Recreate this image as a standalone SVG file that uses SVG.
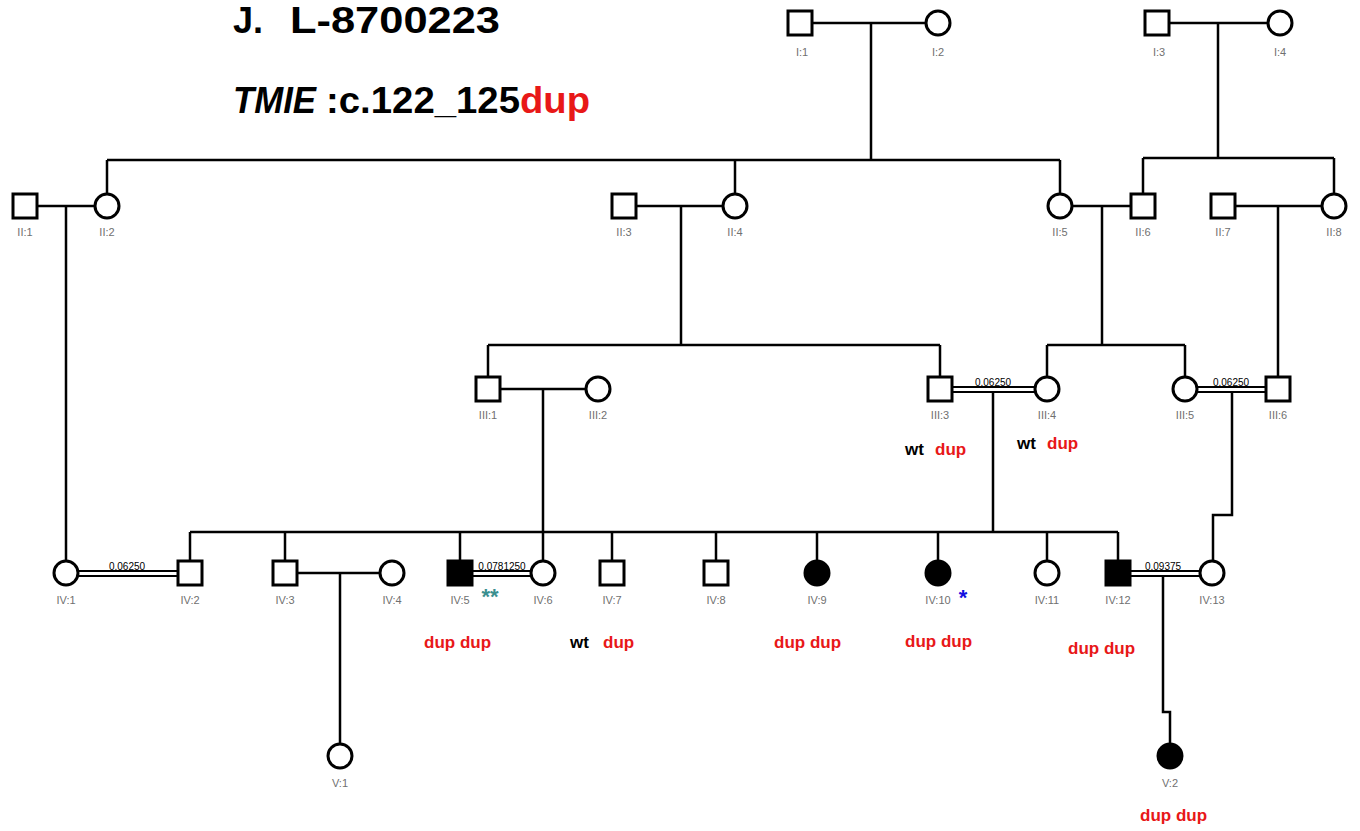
<svg xmlns="http://www.w3.org/2000/svg" width="1360" height="831" viewBox="0 0 1360 831">
<style>
.ln{stroke:#000;stroke-width:2.5;fill:none}
.dl{stroke:#000;stroke-width:2;fill:none}
.m{fill:#fff;stroke:#000;stroke-width:3}
.a{fill:#000;stroke:#000;stroke-width:3}
.lab{font-family:"Liberation Sans",sans-serif;font-size:11px;fill:#707070;text-anchor:middle}
.cf{font-family:"Liberation Sans",sans-serif;font-size:10px;fill:#000;text-anchor:middle}
.gt{font-family:"Liberation Sans",sans-serif;font-weight:bold;font-size:17px;fill:#e81818}
.wt{fill:#000}
.tt{font-family:"Liberation Sans",sans-serif;font-weight:bold;fill:#000}
</style>
<rect width="1360" height="831" fill="#fff"/>
<text class="tt" x="233" y="33" font-size="36">J.</text>
<text class="tt" x="290" y="33" font-size="36" textLength="210" lengthAdjust="spacingAndGlyphs">L-8700223</text>
<text class="tt" x="233" y="113" font-size="36" font-style="italic" textLength="83" lengthAdjust="spacingAndGlyphs">TMIE</text>
<text class="tt" x="326" y="113" font-size="36" textLength="194" lengthAdjust="spacingAndGlyphs">:c.122_125</text>
<text class="tt" x="520" y="113" font-size="36" style="fill:#e81818" textLength="70" lengthAdjust="spacingAndGlyphs">dup</text>

<g id="connectors">
<path class="ln" d="M812 23H926M871 23V160M107 160H1060M107 160V194M735 160V194M1060 160V194"/>
<path class="ln" d="M1169 23H1268M1218 23V158M1143 158H1334M1143 158V194M1334 158V194"/>
<path class="ln" d="M37 206H95M66 206V561"/>
<path class="ln" d="M636 206H723M681 206V345M488 345H940M488 345V377M940 345V377"/>
<path class="ln" d="M1072 206H1131M1102 206V345M1047 345H1185M1047 345V377M1185 345V377"/>
<path class="ln" d="M1235 206H1322M1278 206V377"/>
<path class="ln" d="M500 389H586M543 389V561"/>
<path class="dl" d="M952 387H1035M952 392H1035"/>
<path class="ln" d="M993 392V532M190 532H1118M190 532V561M285 532V561M460 532V561M612 532V561M716 532V561M817 532V561M938 532V561M1047 532V561M1118 532V561"/>
<path class="dl" d="M1197 387H1266M1197 392H1266"/>
<path class="ln" d="M1232 392V515H1213V561"/>
<path class="dl" d="M78 571H178M78 576H178"/>
<path class="ln" d="M297 573H380M340 573V744"/>
<path class="dl" d="M472 571H531M472 576H531"/>
<path class="dl" d="M1130 571H1200M1130 576H1200"/>
<path class="ln" d="M1163 576V712H1170V744"/>
<text class="cf" x="993" y="386">0.06250</text>
<text class="cf" x="1231" y="386">0.06250</text>
<text class="cf" x="127" y="570">0.06250</text>
<text class="cf" x="502" y="570">0.0781250</text>
<text class="cf" x="1163" y="570">0.09375</text>
</g>

<g id="I1"><rect class="m" x="788" y="11" width="24" height="24"/><text class="lab" x="802" y="56">I:1</text></g>
<g id="I2"><circle class="m" cx="938" cy="23" r="12"/><text class="lab" x="938" y="56">I:2</text></g>
<g id="I3"><rect class="m" x="1145" y="11" width="24" height="24"/><text class="lab" x="1159" y="56">I:3</text></g>
<g id="I4"><circle class="m" cx="1280" cy="23" r="12"/><text class="lab" x="1280" y="56">I:4</text></g>

<g id="II1"><rect class="m" x="13" y="194" width="24" height="24"/><text class="lab" x="25" y="236">II:1</text></g>
<g id="II2"><circle class="m" cx="107" cy="206" r="12"/><text class="lab" x="107" y="236">II:2</text></g>
<g id="II3"><rect class="m" x="612" y="194" width="24" height="24"/><text class="lab" x="624" y="236">II:3</text></g>
<g id="II4"><circle class="m" cx="735" cy="206" r="12"/><text class="lab" x="735" y="236">II:4</text></g>
<g id="II5"><circle class="m" cx="1060" cy="206" r="12"/><text class="lab" x="1060" y="236">II:5</text></g>
<g id="II6"><rect class="m" x="1131" y="194" width="24" height="24"/><text class="lab" x="1143" y="236">II:6</text></g>
<g id="II7"><rect class="m" x="1211" y="194" width="24" height="24"/><text class="lab" x="1223" y="236">II:7</text></g>
<g id="II8"><circle class="m" cx="1334" cy="206" r="12"/><text class="lab" x="1334" y="236">II:8</text></g>

<g id="III1"><rect class="m" x="476" y="377" width="24" height="24"/><text class="lab" x="488" y="419">III:1</text></g>
<g id="III2"><circle class="m" cx="598" cy="389" r="12"/><text class="lab" x="598" y="419">III:2</text></g>
<g id="III3"><rect class="m" x="928" y="377" width="24" height="24"/><text class="lab" x="940" y="419">III:3</text>
<text class="gt" x="905" y="455"><tspan class="wt">wt</tspan><tspan x="935">dup</tspan></text></g>
<g id="III4"><circle class="m" cx="1047" cy="389" r="12"/><text class="lab" x="1047" y="419">III:4</text>
<text class="gt" x="1017" y="449"><tspan class="wt">wt</tspan><tspan x="1047">dup</tspan></text></g>
<g id="III5"><circle class="m" cx="1185" cy="389" r="12"/><text class="lab" x="1185" y="419">III:5</text></g>
<g id="III6"><rect class="m" x="1266" y="377" width="24" height="24"/><text class="lab" x="1278" y="419">III:6</text></g>

<g id="IV1"><circle class="m" cx="66" cy="573" r="12"/><text class="lab" x="66" y="604">IV:1</text></g>
<g id="IV2"><rect class="m" x="178" y="561" width="24" height="24"/><text class="lab" x="190" y="604">IV:2</text></g>
<g id="IV3"><rect class="m" x="273" y="561" width="24" height="24"/><text class="lab" x="285" y="604">IV:3</text></g>
<g id="IV4"><circle class="m" cx="392" cy="573" r="12"/><text class="lab" x="392" y="604">IV:4</text></g>
<g id="IV5"><rect class="a" x="448" y="561" width="24" height="24"/><text class="lab" x="460" y="604">IV:5</text>
<text x="490" y="604" font-family="Liberation Sans,sans-serif" font-weight="bold" font-size="22" fill="#3a8f8f" text-anchor="middle">**</text>
<text class="gt" x="424" y="648">dup dup</text></g>
<g id="IV6"><circle class="m" cx="543" cy="573" r="12"/><text class="lab" x="543" y="604">IV:6</text></g>
<g id="IV7"><rect class="m" x="600" y="561" width="24" height="24"/><text class="lab" x="612" y="604">IV:7</text>
<text class="gt" x="570" y="648"><tspan class="wt">wt</tspan><tspan x="603">dup</tspan></text></g>
<g id="IV8"><rect class="m" x="704" y="561" width="24" height="24"/><text class="lab" x="716" y="604">IV:8</text></g>
<g id="IV9"><circle class="a" cx="817" cy="573" r="12"/><text class="lab" x="817" y="604">IV:9</text>
<text class="gt" x="774" y="648">dup dup</text></g>
<g id="IV10"><circle class="a" cx="938" cy="573" r="12"/><text class="lab" x="938" y="604">IV:10</text>
<text x="963" y="605" font-family="Liberation Sans,sans-serif" font-weight="bold" font-size="22" fill="#1010e0" text-anchor="middle">*</text>
<text class="gt" x="905" y="647">dup dup</text></g>
<g id="IV11"><circle class="m" cx="1047" cy="573" r="12"/><text class="lab" x="1047" y="604">IV:11</text></g>
<g id="IV12"><rect class="a" x="1106" y="561" width="24" height="24"/><text class="lab" x="1118" y="604">IV:12</text>
<text class="gt" x="1068" y="654">dup dup</text></g>
<g id="IV13"><circle class="m" cx="1212" cy="573" r="12"/><text class="lab" x="1212" y="604">IV:13</text></g>

<g id="V1"><circle class="m" cx="340" cy="756" r="12"/><text class="lab" x="340" y="787">V:1</text></g>
<g id="V2"><circle class="a" cx="1170" cy="756" r="12"/><text class="lab" x="1170" y="787">V:2</text>
<text class="gt" x="1140" y="821">dup dup</text></g>
</svg>
